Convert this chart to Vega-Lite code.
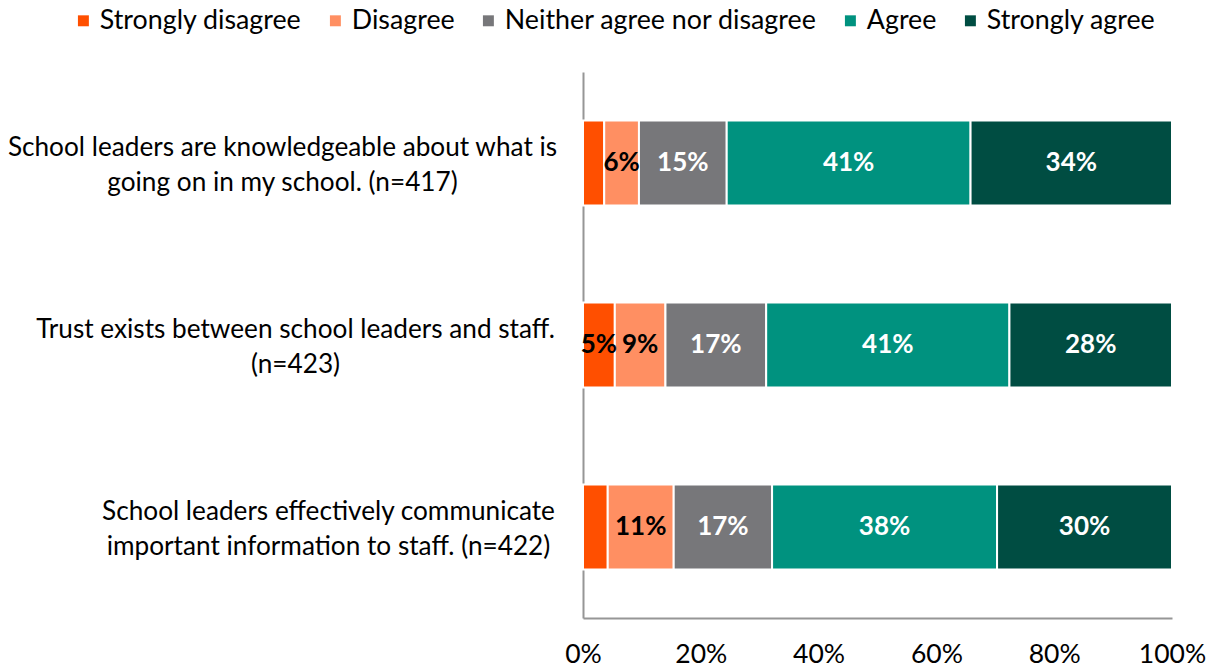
{
  "$schema": "https://vega.github.io/schema/vega-lite/v6.json",
  "width": 589,
  "height": 546,
  "autosize": {"type": "none"},
  "padding": {"left": 583, "top": 72, "right": 43, "bottom": 50},
  "background": "white",
  "config": {"font": "Lato", "view": {"stroke": null}},
  "data": {
    "values": [
      {"question": "School leaders are knowledgeable about what is going on in my school. (n=417)", "response": "Strongly disagree", "pct": 0.036},
      {"question": "School leaders are knowledgeable about what is going on in my school. (n=417)", "response": "Disagree", "pct": 0.059},
      {"question": "School leaders are knowledgeable about what is going on in my school. (n=417)", "response": "Neither agree nor disagree", "pct": 0.149},
      {"question": "School leaders are knowledgeable about what is going on in my school. (n=417)", "response": "Agree", "pct": 0.414},
      {"question": "School leaders are knowledgeable about what is going on in my school. (n=417)", "response": "Strongly agree", "pct": 0.342},
      {"question": "Trust exists between school leaders and staff. (n=423)", "response": "Strongly disagree", "pct": 0.054},
      {"question": "Trust exists between school leaders and staff. (n=423)", "response": "Disagree", "pct": 0.086},
      {"question": "Trust exists between school leaders and staff. (n=423)", "response": "Neither agree nor disagree", "pct": 0.171},
      {"question": "Trust exists between school leaders and staff. (n=423)", "response": "Agree", "pct": 0.413},
      {"question": "Trust exists between school leaders and staff. (n=423)", "response": "Strongly agree", "pct": 0.276},
      {"question": "School leaders effectively communicate important information to staff. (n=422)", "response": "Strongly disagree", "pct": 0.042},
      {"question": "School leaders effectively communicate important information to staff. (n=422)", "response": "Disagree", "pct": 0.112},
      {"question": "School leaders effectively communicate important information to staff. (n=422)", "response": "Neither agree nor disagree", "pct": 0.167},
      {"question": "School leaders effectively communicate important information to staff. (n=422)", "response": "Agree", "pct": 0.382},
      {"question": "School leaders effectively communicate important information to staff. (n=422)", "response": "Strongly agree", "pct": 0.297}
    ]
  },
  "transform": [
    {"calculate": "indexof(['Strongly disagree','Disagree','Neither agree nor disagree','Agree','Strongly agree'], datum.response)", "as": "ord"},
    {"stack": "pct", "groupby": ["question"], "sort": [{"field": "ord", "order": "ascending"}], "as": ["x0", "x1"]},
    {"calculate": "(datum.x0 + datum.x1) / 2", "as": "mid"}
  ],
  "encoding": {
    "y": {
      "field": "question",
      "type": "nominal",
      "sort": null,
      "title": null,
      "scale": {"paddingInner": 0.533, "paddingOuter": 0.267},
      "axis": {
        "ticks": false,
        "tickSize": 0,
        "labelPadding": {
          "condition": [
            {"test": "indexof(datum.value,'Trust')==0", "value": 288},
            {"test": "indexof(datum.value,'School leaders effectively')==0", "value": 255}
          ],
          "value": 301
        },
        "labelOffset": -15,
        "labelAlign": "center",
        "labelFont": "Lato",
        "labelFontSize": 26.2,
        "labelColor": "#000000",
        "labelLineHeight": 35,
        "labelLimit": 0,
        "domainColor": "#969696",
        "domainWidth": 2,
        "labelExpr": "indexof(datum.value,'Trust')==0 ? ['Trust exists between school leaders and staff.', '(n=423)'] : indexof(datum.value,'School leaders are')==0 ? ['School leaders are knowledgeable about what is', 'going on in my school. (n=417)'] : ['School leaders effectively communicate', 'important information to staff. (n=422)']"
      }
    }
  },
  "layer": [
    {
      "mark": {"type": "bar", "stroke": "white", "strokeWidth": 2},
      "encoding": {
        "x": {
          "field": "x0",
          "type": "quantitative",
          "scale": {"domain": [0, 1], "nice": false},
          "title": null,
          "axis": {
            "format": ".0%",
            "values": [0, 0.2, 0.4, 0.6, 0.8, 1],
            "ticks": false,
            "tickSize": 0,
            "grid": false,
            "labelPadding": 23,
            "labelFont": "Lato",
            "labelFontSize": 26.5,
            "labelColor": "#000000",
            "labelFlush": false,
            "domainColor": "#969696",
            "domainWidth": 2
          }
        },
        "x2": {"field": "x1"},
        "color": {
          "field": "response",
          "type": "nominal",
          "scale": {
            "domain": ["Strongly disagree", "Disagree", "Neither agree nor disagree", "Agree", "Strongly agree"],
            "range": ["#FF4F00", "#FF8F62", "#77777A", "#00927F", "#004D42"]
          },
          "legend": {
            "orient": "none",
            "direction": "horizontal",
            "legendX": -513,
            "legendY": -65,
            "title": null,
            "symbolType": "square",
            "symbolSize": 120,
            "symbolStrokeWidth": 0,
            "symbolOpacity": 1,
            "labelFont": "Lato",
            "labelFontSize": 26.8,
            "labelColor": "#000000",
            "labelOffset": 3,
            "columnPadding": 20,
            "labelLimit": 0
          }
        }
      }
    },
    {
      "transform": [{"filter": "datum.pct >= 0.045"}],
      "mark": {"type": "text", "font": "Lato", "fontSize": 26, "fontWeight": "bold", "baseline": "middle", "align": "center"},
      "encoding": {
        "x": {"field": "mid", "type": "quantitative"},
        "text": {"field": "pct", "type": "quantitative", "format": ".0%"},
        "color": {
          "condition": {"test": "datum.response === 'Strongly disagree' || datum.response === 'Disagree'", "value": "#000000"},
          "value": "#FFFFFF"
        }
      }
    }
  ]
}
